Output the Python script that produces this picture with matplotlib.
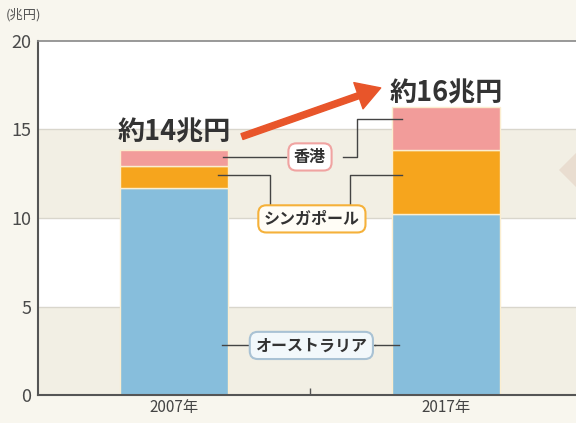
import matplotlib.pyplot as plt
from matplotlib.patches import Polygon

plt.rcParams['font.family'] = ['Noto Sans CJK JP', 'DejaVu Sans']

years = ['2007年', '2017年']
australia = [11.7, 10.2]
singapore = [1.25, 3.65]
hongkong = [0.9, 2.4]
totals = ['約14兆円', '約16兆円']
names = ['オーストラリア', 'シンガポール', '香港']

c_aus = '#87bedc'
c_sgp = '#f6a51d'
c_hk = '#f29c9a'
txt = '#333333'

fig = plt.figure(figsize=(5.76, 4.23), dpi=100, facecolor='#f8f6ee')
ax = fig.add_axes([38 / 576, 28 / 423, 1 - 38 / 576, (395 - 41) / 423])
ax.set_facecolor('white')

# alternating background bands
for lo in (0, 10):
    ax.axhspan(lo, lo + 5, color='#f2efe4', zorder=0, lw=0)
for y in (5, 10, 15):
    ax.axhline(y, color='#d9d6cc', lw=1, zorder=0.5)

x = [0, 1]
w = 0.4
ec = '#fbeed0'
ax.bar(x, australia, w, color=c_aus, edgecolor=ec, lw=1, zorder=2)
ax.bar(x, singapore, w, bottom=australia, color=c_sgp, edgecolor=ec, lw=1, zorder=2)
bot2 = [a + s for a, s in zip(australia, singapore)]
ax.bar(x, hongkong, w, bottom=bot2, color=c_hk, edgecolor=ec, lw=1, zorder=2)

ax.set_xlim(-0.5, 1.478)
ax.set_ylim(0, 20)
ax.set_yticks([0, 5, 10, 15, 20])
ax.set_xticks(x)
ax.set_xticklabels(years, fontsize=11, color='#444444')
ax.set_xticks([0.5], minor=True)
ax.tick_params(axis='y', length=0, labelsize=13, labelcolor='#4a4a4a', pad=5)
ax.tick_params(axis='x', which='major', length=0, pad=3)
ax.tick_params(axis='x', which='minor', length=5, direction='in', color='#555555', width=1)
for s in ('left', 'bottom'):
    ax.spines[s].set_color('#555555')
    ax.spines[s].set_linewidth(1.5)
ax.spines['top'].set_color('#888888')
ax.spines['top'].set_linewidth(1.2)
ax.spines['right'].set_visible(False)

fig.text(6 / 576, 1 - 15 / 423, '(兆円)', fontsize=9.5, color='#555555', va='center')

# totals and arrow
ax.text(0.0, 14.85, totals[0], fontsize=19.5, fontweight='bold', color=txt,
        ha='center', va='center', zorder=5)
ax.text(1.0, 17.05, totals[1], fontsize=19.5, fontweight='bold', color=txt,
        ha='center', va='center', zorder=5)
ax.annotate('', xy=(0.76, 17.35), xytext=(0.25, 14.6),
            arrowprops=dict(arrowstyle='simple,head_length=0.85,head_width=1.0,tail_width=0.22',
                            color='#e8552a', mutation_scale=20, shrinkA=0, shrinkB=0), zorder=5)

# leader lines
lc = '#444444'
ax.plot([0.18, 0.41], [13.45, 13.45], color=lc, lw=1, zorder=3)
ax.plot([0.62, 0.673, 0.673, 0.838], [13.45, 13.45, 15.6, 15.6], color=lc, lw=1, zorder=3)
ax.plot([0.162, 0.353, 0.353], [12.43, 12.43, 10.8], color=lc, lw=1, zorder=3)
ax.plot([0.647, 0.647, 0.838], [10.8, 12.43, 12.43], color=lc, lw=1, zorder=3)
ax.plot([0.176, 0.74], [2.8, 2.8], color=lc, lw=1, zorder=3)
ax.plot([0.74, 0.827], [2.8, 2.8], color=lc, lw=1, zorder=3)

box = dict(boxstyle='round,pad=0.35,rounding_size=0.5', lw=1.5)
ax.text(0.5, 13.45, names[2], fontsize=11.5, fontweight='bold', color=txt,
        ha='center', va='center', zorder=4, bbox=dict(box, fc='white', ec='#f0a3a1'))
ax.text(0.507, 9.95, names[1], fontsize=11.5, fontweight='bold', color=txt,
        ha='center', va='center', zorder=4, bbox=dict(box, fc='#fffdf6', ec='#f5b13a'))
ax.text(0.505, 2.8, names[0], fontsize=11.5, fontweight='bold', color=txt,
        ha='center', va='center', zorder=4, bbox=dict(box, fc='#f2f8fb', ec='#a9c2d4'))

# decorative diamond cut off at the right edge
pts = [(559 / 576, 1 - 170 / 423), (579 / 576, 1 - 150 / 423),
       (599 / 576, 1 - 170 / 423), (579 / 576, 1 - 190 / 423)]
fig.patches.append(Polygon(pts, closed=True, transform=fig.transFigure,
                           fc='#e9ddd0', ec='none', zorder=10))

fig.savefig('out.png', dpi=100, facecolor=fig.get_facecolor())
